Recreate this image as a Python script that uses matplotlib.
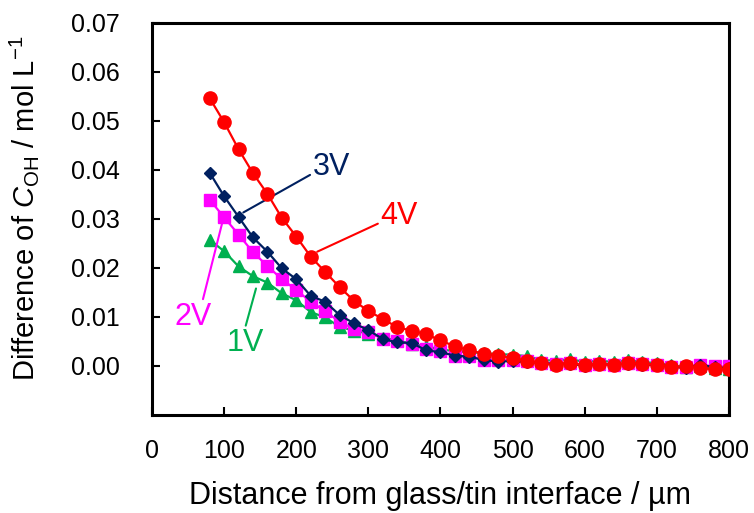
import matplotlib
matplotlib.use("Agg")
import matplotlib.pyplot as plt

plt.rcParams['font.family'] = ['Liberation Sans', 'DejaVu Sans']
plt.rcParams['mathtext.fontset'] = 'custom'
plt.rcParams['mathtext.rm'] = 'Liberation Sans'
plt.rcParams['mathtext.it'] = 'Liberation Sans:italic'

distance = [80, 100, 120, 140, 160, 180, 200, 220, 240, 260, 280, 300, 320, 340,
            360, 380, 400, 420, 440, 460, 480, 500, 520, 540, 560, 580, 600, 620,
            640, 660, 680, 700, 720, 740, 760, 780, 800]

v1 = [0.0257, 0.0234, 0.0203, 0.0183, 0.0170, 0.0148, 0.0134, 0.0110, 0.0099, 0.0080,
      0.0072, 0.0066, 0.0058, 0.0052, 0.0045, 0.0040, 0.0034, 0.0030, 0.0028, 0.0026,
      0.0024, 0.0023, 0.0020, 0.0012, 0.0011, 0.0014, 0.0008, 0.0011, 0.0008, 0.0012,
      0.0008, 0.0006, 0.0002, -0.0003, 0.0000, -0.0004, -0.0007]

v2 = [0.0339, 0.0303, 0.0268, 0.0232, 0.0204, 0.0177, 0.0155, 0.0131, 0.0112, 0.0090,
      0.0076, 0.0069, 0.0056, 0.0050, 0.0044, 0.0034, 0.0030, 0.0020, 0.0020, 0.0013,
      0.0012, 0.0012, 0.0010, 0.0007, 0.0005, 0.0006, 0.0002, 0.0004, 0.0002, 0.0007,
      0.0005, 0.0001, -0.0003, -0.0002, 0.0003, -0.0001, -0.0001]

v3 = [0.0394, 0.0346, 0.0304, 0.0262, 0.0233, 0.0199, 0.0177, 0.0143, 0.0131, 0.0104,
      0.0087, 0.0073, 0.0055, 0.0048, 0.0047, 0.0032, 0.0028, 0.0021, 0.0019, 0.0012,
      0.0009, 0.0010, 0.0008, 0.0006, 0.0004, 0.0005, 0.0000, 0.0004, 0.0003, 0.0005,
      0.0003, 0.0002, 0.0000, -0.0005, 0.0003, -0.0003, -0.0004]

v4 = [0.0546, 0.0497, 0.0442, 0.0393, 0.0351, 0.0302, 0.0264, 0.0223, 0.0192, 0.0161,
      0.0133, 0.0112, 0.0096, 0.0079, 0.0072, 0.0065, 0.0052, 0.0040, 0.0032, 0.0025,
      0.0021, 0.0016, 0.0011, 0.0006, 0.0001, 0.0007, 0.0001, 0.0005, 0.0002, 0.0006,
      0.0005, 0.0003, -0.0002, -0.0001, -0.0004, -0.0007, -0.0006]

x_ticks = [0, 100, 200, 300, 400, 500, 600, 700, 800]
y_ticks = [0.00, 0.01, 0.02, 0.03, 0.04, 0.05, 0.06, 0.07]
y_ticklabels = ['0.00', '0.01', '0.02', '0.03', '0.04', '0.05', '0.06', '0.07']

fig = plt.figure(figsize=(7.54, 5.13), dpi=100)
ax = fig.add_axes([0.2016, 0.191, 0.7652, 0.7648])

green = '#00B050'
magenta = '#FF00FF'
navy = '#002060'
red = '#FF0000'

ax.plot(distance, v1, color=green, lw=1.6, marker='^', ms=9, zorder=2)
ax.plot(distance, v2, color=magenta, lw=1.6, marker='s', ms=8, zorder=3)
ax.plot(distance, v3, color=navy, lw=1.6, marker='D', ms=6.5, zorder=4)
ax.plot(distance, v4, color=red, lw=1.6, marker='o', ms=9.5, zorder=5)

fs_ann = 22
ax.annotate('3V', xy=(126.6, 0.0313), xytext=(223, 0.0405), color=navy, fontsize=fs_ann,
            ha='left', va='center',
            arrowprops=dict(arrowstyle='-', color=navy, lw=1.5, shrinkA=0, shrinkB=0,
                            relpos=(0, 0.3)))
ax.annotate('4V', xy=(229.1, 0.0233), xytext=(317, 0.0305), color=red, fontsize=fs_ann,
            ha='left', va='center',
            arrowprops=dict(arrowstyle='-', color=red, lw=1.5, shrinkA=0, shrinkB=0,
                            relpos=(0, 0.3)))
ax.annotate('2V', xy=(98.4, 0.0298), xytext=(56.8, 0.0100), color=magenta, fontsize=fs_ann,
            ha='center', va='center',
            arrowprops=dict(arrowstyle='-', color=magenta, lw=1.5, shrinkA=0, shrinkB=0,
                            relpos=(0.75, 1.0)))
ax.annotate('1V', xy=(144.2, 0.0158), xytext=(128.9, 0.0046), color=green, fontsize=fs_ann,
            ha='center', va='center',
            arrowprops=dict(arrowstyle='-', color=green, lw=1.5, shrinkA=0, shrinkB=0,
                            relpos=(0.5, 1.0)))

ax.set_xlim(0, 800)
ax.set_ylim(-0.01, 0.07)
ax.set_xticks(x_ticks)
ax.set_yticks(y_ticks)
ax.set_yticklabels(y_ticklabels)

for s in ax.spines.values():
    s.set_linewidth(2.2)
ax.tick_params(axis='both', direction='in', length=6, width=1.5, labelsize=18)
ax.tick_params(axis='y', pad=23)
ax.tick_params(axis='x', pad=17)

ax.set_xlabel('Distance from glass/tin interface / µm', fontsize=22, labelpad=13)
ax.set_ylabel(r'Difference of $\mathit{C}_{\mathrm{OH}}$ / mol L$^{\mathrm{-1}}$', fontsize=21)
ax.yaxis.set_label_coords(-0.192, 0.528)

fig.savefig('out.png', dpi=100)
